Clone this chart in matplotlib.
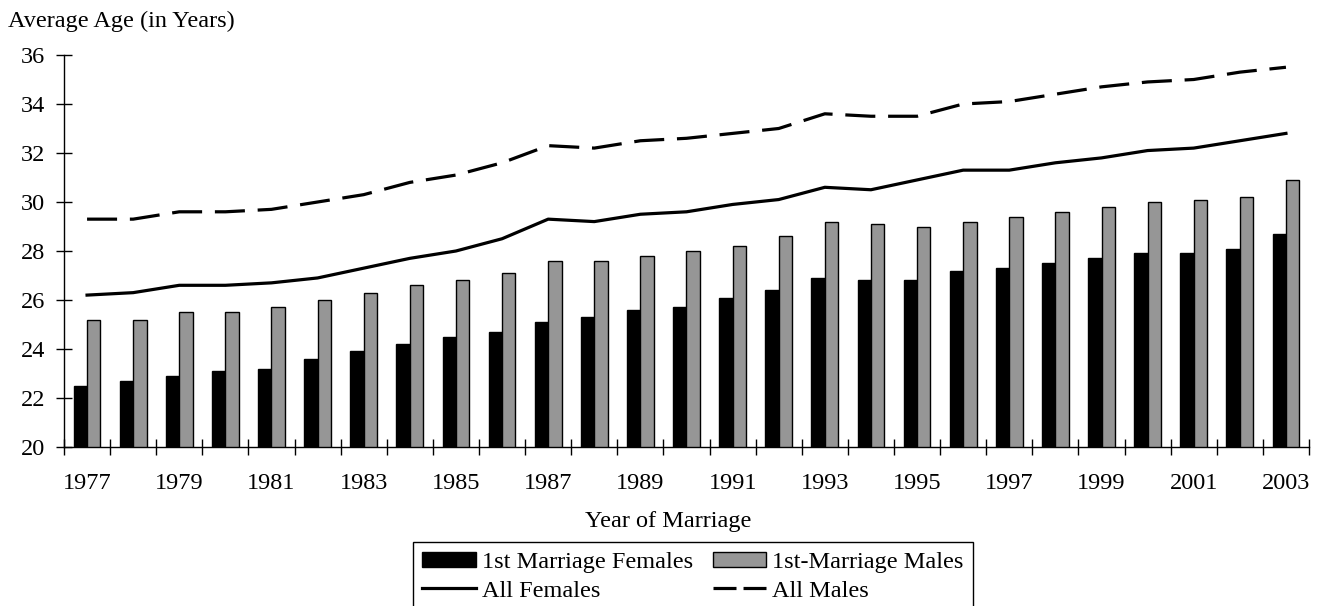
import matplotlib
matplotlib.use("Agg")
import matplotlib.pyplot as plt
from matplotlib.lines import Line2D
from matplotlib.patches import Patch
import numpy as np

years = list(range(1977, 2004))
first_females = [22.5, 22.7, 22.9, 23.1, 23.2, 23.6, 23.9, 24.2, 24.5, 24.7, 25.1, 25.3, 25.6, 25.7,
                 26.1, 26.4, 26.9, 26.8, 26.8, 27.2, 27.3, 27.5, 27.7, 27.9, 27.9, 28.1, 28.7]
first_males = [25.2, 25.2, 25.5, 25.5, 25.7, 26.0, 26.3, 26.6, 26.8, 27.1, 27.6, 27.6, 27.8, 28.0,
               28.2, 28.6, 29.2, 29.1, 29.0, 29.2, 29.4, 29.6, 29.8, 30.0, 30.1, 30.2, 30.9]
all_females = [26.2, 26.3, 26.6, 26.6, 26.7, 26.9, 27.3, 27.7, 28.0, 28.5, 29.3, 29.2, 29.5, 29.6,
               29.9, 30.1, 30.6, 30.5, 30.9, 31.3, 31.3, 31.6, 31.8, 32.1, 32.2, 32.5, 32.8]
all_males = [29.3, 29.3, 29.6, 29.6, 29.7, 30.0, 30.3, 30.8, 31.1, 31.6, 32.3, 32.2, 32.5, 32.6,
             32.8, 33.0, 33.6, 33.5, 33.5, 34.0, 34.1, 34.4, 34.7, 34.9, 35.0, 35.3, 35.5]
year_labels = [str(y) for y in years[::2]]

plt.rcParams['font.family'] = ['Liberation Serif', 'DejaVu Serif']
FS = 17.5
plt.rcParams['font.size'] = FS

W, H = 1319, 606
fig = plt.figure(figsize=(W / 100, H / 100), dpi=100)
ax = fig.add_axes([64 / W, 1 - 447 / H, (1309 - 64) / W, (447 - 55) / H])

x = np.arange(len(years))
bw = 0.29
GREY = '#969696'
ax.bar(x - bw / 2, first_females, bw, color='black', edgecolor='black', linewidth=1.0, zorder=2)
ax.bar(x + bw / 2, first_males, bw, color=GREY, edgecolor='black', linewidth=1.0, zorder=2)
ax.plot(x, all_females, color='black', lw=2.3, zorder=3)
ax.plot(x, all_males, color='black', lw=2.3, dashes=(9.4, 4.0), zorder=3)

ax.set_xlim(-0.5, len(years) - 0.5)
ax.set_ylim(20, 36)
ax.set_yticks(np.arange(20, 37, 2))
ax.tick_params(axis='y', direction='inout', length=11, width=1, pad=8, labelsize=FS)

ax.set_xticks(np.arange(-0.5, len(years), 1.0))
ax.set_xticklabels([])
ax.set_xticks(x[::2], minor=True)
ax.set_xticklabels(year_labels, minor=True)
ax.tick_params(axis='x', which='major', direction='inout', length=11, width=1)
ax.tick_params(axis='x', which='minor', length=0, pad=19, labelsize=FS)

for s in ['top', 'right']:
    ax.spines[s].set_visible(False)
for s in ['left', 'bottom']:
    ax.spines[s].set_linewidth(1.0)

fig.text(8 / W, 1 - 21 / H, 'Average Age (in Years)', ha='left', va='center', fontsize=FS)
fig.text(668 / W, 1 - 521 / H, 'Year of Marriage', ha='center', va='center', fontsize=FS)

handles = [
    Patch(facecolor='black', edgecolor='black', linewidth=1.0),
    Line2D([], [], color='black', lw=2.3),
    Patch(facecolor=GREY, edgecolor='black', linewidth=1.0),
    Line2D([], [], color='black', lw=2.3, dashes=(7.2, 2.2)),
]
labels = ['1st Marriage Females', 'All Females', '1st-Marriage Males', 'All Males']
leg = fig.legend(handles, labels, loc='upper center', bbox_to_anchor=(693 / W, 1 - 542 / H), ncol=2,
                 frameon=True, fancybox=False, edgecolor='black', framealpha=1,
                 handlelength=2.2, handleheight=0.6, handletextpad=0.25, columnspacing=0.8,
                 labelspacing=0.3, borderpad=0.4, borderaxespad=0, fontsize=FS)
leg.get_frame().set_linewidth(1.0)

fig.savefig('out.png', dpi=100)
